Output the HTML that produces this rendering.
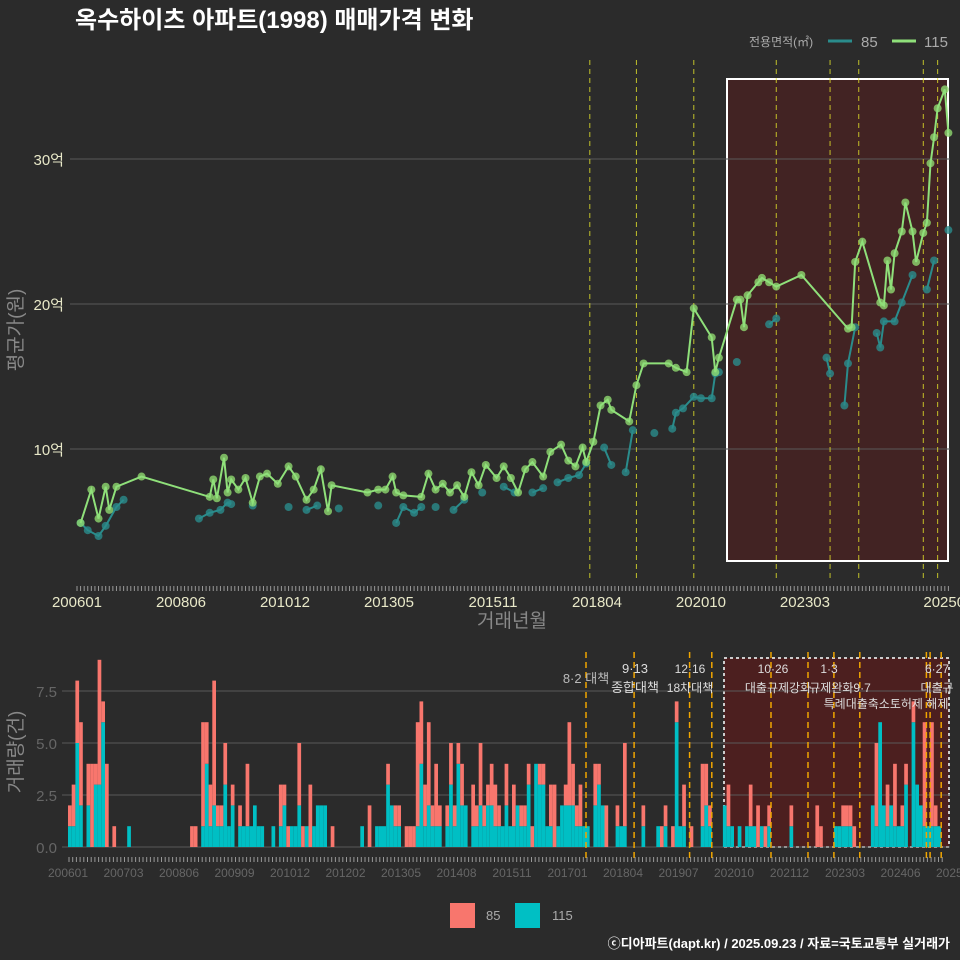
<!DOCTYPE html>
<html><head><meta charset="utf-8"><style>
html,body{margin:0;padding:0;background:#2b2b2b;}
svg{display:block;font-family:"Liberation Sans","Noto Sans CJK KR",sans-serif;}
</style></head><body>
<svg id="chart" width="960" height="960" viewBox="0 0 960 960" xmlns="http://www.w3.org/2000/svg">
<rect x="0" y="0" width="960" height="960" fill="#2b2b2b"/>
<text x="75" y="28" fill="#ffffff" font-size="24" font-weight="bold">옥수하이츠 아파트(1998) 매매가격 변화</text>
<g>
<text x="749" y="46" fill="#aaaaaa" font-size="12">전용면적(㎡)</text>
<line x1="828" y1="41" x2="852" y2="41" stroke="#2a8c8c" stroke-width="3"/>
<text x="861" y="47" fill="#aaaaaa" font-size="15">85</text>
<line x1="892" y1="41" x2="916" y2="41" stroke="#8fe07a" stroke-width="3"/>
<text x="924" y="47" fill="#aaaaaa" font-size="15">115</text>
</g>
<rect x="727" y="79" width="221" height="482" fill="rgba(110,20,20,0.35)" stroke="#ffffff" stroke-width="2"/>
<rect x="724" y="658" width="225" height="189" fill="rgba(110,20,20,0.5)" stroke="#cccccc" stroke-width="2" stroke-dasharray="3,3"/>
<g id="topGrid"></g><g id="topVlines"></g><g id="topMarks"></g><g id="topAxis"></g>
<g id="botGrid"></g><g id="bars"></g><g id="botVlines"></g><g id="botAxis"></g>
<text transform="translate(22,330) rotate(-90)" text-anchor="middle" fill="#888888" font-size="19">평균가(원)</text>
<text x="512" y="627" text-anchor="middle" fill="#888888" font-size="19">거래년월</text>
<text transform="translate(22,752) rotate(-90)" text-anchor="middle" fill="#888888" font-size="19">거래량(건)</text>
<g fill="#dddddd" font-size="12" text-anchor="middle">
<text x="586" y="683" fill="#bbbbbb" font-size="13">8·2 대책</text>
<text x="635" y="673" font-size="13">9·13</text>
<text x="635" y="692" font-size="13">종합대책</text>
<text x="690" y="673">12·16</text>
<text x="690" y="692">18차대책</text>
<text x="773" y="673">10·26</text>
<text x="778" y="692">대출규제강화</text>
<text x="829" y="673">1·3</text>
<text x="840" y="692">규제완화9·7</text>
<text x="886" y="708">특례대출축소토허제 해제</text>
<text x="937" y="673">6·27</text>
<text x="937" y="692">대출규</text>
</g>
<g>
<rect x="450" y="903" width="25" height="25" fill="#f8766d"/>
<text x="486" y="920" fill="#aaaaaa" font-size="13">85</text>
<rect x="515" y="903" width="25" height="25" fill="#00bfc4"/>
<text x="552" y="920" fill="#aaaaaa" font-size="13">115</text>
</g>
<text x="950" y="948" text-anchor="end" fill="#ffffff" font-size="13" font-weight="bold">ⓒ디아파트(dapt.kr) / 2025.09.23 / 자료=국토교통부 실거래가</text>
</svg>
<script>
const months115=[1,4,6,8,9,11,18,37,38,39,41,42,43,45,47,49,51,53,56,59,61,64,66,68,70,71,81,84,86,88,89,91,96,98,100,102,104,106,108,110,112,114,117,119,121,123,125,127,130,132,135,137,139,141,142,144,146,148,149,154,156,158,165,167,170,172,177,178,179,184,185,186,187,190,191,193,195,202,215,216,217,219,224,225,226,227,228,230,231,233,234,236,237,238,239,240,242,243];
const price115=[4.9,7.2,5.2,7.4,5.8,7.4,8.1,6.7,7.9,6.6,9.4,7.0,7.9,7.2,8.0,6.3,8.1,8.3,7.6,8.8,8.1,6.5,7.2,8.6,5.7,7.5,7.0,7.2,7.2,8.1,7.0,6.8,6.7,8.3,7.2,7.6,7.0,7.5,6.7,8.4,7.5,8.9,8.0,8.8,8.0,7.0,8.6,9.1,8.1,9.8,10.3,9.2,8.8,10.1,9.1,10.5,13.0,13.4,12.7,11.9,14.4,15.9,15.9,15.6,15.3,19.7,17.7,15.3,16.3,20.3,20.3,18.4,20.6,21.5,21.8,21.5,21.2,22.0,18.3,18.4,22.9,24.3,20.1,19.9,23.0,21.0,23.5,25.0,27.0,25.0,22.9,24.9,25.6,29.7,31.5,33.5,34.8,31.8];
const months85=[1,3,6,8,11,13,34,37,40,42,43,49,59,64,67,73,84,89,91,94,96,100,105,108,113,119,122,127,130,134,137,140,142,147,149,153,155,161,166,167,169,172,174,177,178,179,184,193,195,209,210,214,215,217,223,224,225,228,230,233,237,239,243];
const price85=[4.9,4.4,4.0,4.7,6.0,6.5,5.2,5.6,5.8,6.3,6.2,6.1,6.0,5.8,6.1,5.9,6.1,4.9,6.0,5.6,6.0,6.0,5.8,6.5,7.0,7.4,7.0,7.0,7.3,7.7,8.0,8.2,9.0,10.1,8.9,8.4,11.3,11.1,11.4,12.5,12.8,13.6,13.5,13.5,15.2,15.3,16.0,18.6,19.0,16.3,15.2,13.0,15.9,18.4,18.0,17.0,18.8,18.8,20.1,22.0,21.0,23.0,25.1];
const priceTicks=[10,20,30];
const priceTickLabels=["10억","20억","30억"];
const topTickMonths=[0,29,58,87,116,145,174,203,243];
const topTickLabels=["200601","200806","201012","201305","201511","201804","202010","202303","202509"];
const topVlineMonths=[143,156,172,195,210,218,236,240];
const countMonths=[0,1,2,3,5,6,7,8,9,10,12,16,33,34,36,37,38,39,40,41,42,43,44,46,47,48,49,50,51,52,55,57,58,59,60,61,62,63,64,65,66,67,68,69,71,79,81,83,84,85,86,87,88,89,91,92,93,94,95,96,97,98,99,100,102,103,104,105,106,107,109,110,111,112,113,114,115,116,117,118,119,120,121,122,123,124,125,126,127,128,129,130,131,132,133,134,135,136,137,138,139,140,142,143,144,145,148,149,150,152,155,159,160,161,163,164,165,166,168,171,172,173,177,178,179,181,183,184,185,186,187,188,189,195,202,203,207,208,209,210,211,212,217,218,219,220,221,222,223,224,225,226,228,229,230,231,232,233,234,235,236];
const count115=[1,1,5,2,2,0,3,3,6,0,0,1,0,0,1,4,1,2,1,1,3,1,2,1,1,1,1,2,1,1,1,1,2,0,1,1,2,0,1,0,1,2,2,2,0,1,0,1,1,1,3,2,1,1,0,0,0,1,4,1,2,1,1,1,1,3,1,4,2,2,1,1,2,1,2,2,1,1,1,2,1,1,2,1,1,3,0,4,3,3,1,1,0,1,2,2,2,2,1,1,1,1,2,3,2,0,1,1,1,0,1,1,0,1,0,6,1,1,0,1,2,1,2,1,1,1,1,1,1,0,1,0,1,1,0,0,1,1,1,1,1,0,2,1,6,2,1,2,1,1,1,3,6,3,2,1,1,1,1,1];
const count85=[1,2,3,4,2,4,1,6,1,4,1,0,1,1,5,2,2,6,1,1,2,0,1,1,0,3,0,0,0,0,0,2,1,1,0,0,3,1,0,3,0,0,0,0,1,0,2,0,0,0,1,0,1,1,1,1,1,5,3,2,4,1,3,1,1,2,1,1,2,0,2,1,3,1,1,2,2,1,0,2,0,2,0,1,1,1,1,0,1,1,0,2,3,0,0,1,4,2,1,2,0,0,2,1,0,2,1,0,4,0,1,0,1,1,1,1,0,2,1,3,2,1,0,2,0,0,0,2,0,2,0,1,1,1,2,1,0,0,1,1,1,1,0,4,0,0,2,0,3,0,1,1,1,0,0,5,0,5,1,0,0,1];
const botTickLabels=["200601","200703","200806","200909","201012","201202","201305","201408","201511","201701","201804","201907","202010","202112","202303","202406","202509"];
const botTickStep=15;
const volTicks=[0,2.5,5,7.5];
const volTickLabels=["0.0","2.5","5.0","7.5"];
const botVlineMonths=[140,153,168,174,190,200,207,214,232,233,236];
const totalMonths=237;

const NS="http://www.w3.org/2000/svg";
function xT(m){return 77+m*3.586;}
function yT(v){return 449-(v-10)*14.5;}
function xB(m){return 68+m*3.7;}
function yB(c){return 847-c*20.8;}
function mk(tag,attrs,parent){const e=document.createElementNS(NS,tag);for(const k in attrs)e.setAttribute(k,attrs[k]);document.getElementById(parent).appendChild(e);return e;}

// top grid
priceTicks.forEach((v,i)=>{
  const l=mk('line',{x1:70,x2:950,y1:yT(v),y2:yT(v),stroke:'#5a5a5a','stroke-width':1},'topGrid');
  
  
  const t=mk('text',{x:64,y:yT(v)+6,'text-anchor':'end',fill:'#e8e8c8','font-size':15},'topGrid');
  t.textContent=priceTickLabels[i];
  
  
});
topVlineMonths.forEach(m=>{
  const l=mk('line',{x1:xT(m),x2:xT(m),y1:60,y2:580,stroke:'#e6e62a','stroke-width':1,'stroke-dasharray':'5,4',opacity:0.8},'topVlines');
  
  
});
// lines
function pathFrom(ms,vs,maxGap){let d='';for(let i=0;i<ms.length;i++){const cmd=(i===0||ms[i]-ms[i-1]>maxGap)?'M':'L';d+=cmd+xT(ms[i]).toFixed(1)+','+yT(vs[i]).toFixed(1)+' ';}return d;}
// points 85
months85.forEach((m,i)=>{
  const c=mk('circle',{cx:xT(m),cy:yT(price85[i]),r:4,fill:'#2a8c8c','fill-opacity':0.8},'topMarks');
  
  
});
const p85=mk('path',{d:pathFrom(months85,price85,3),fill:'none',stroke:'#2a8c8c','stroke-width':2},'topMarks');


months115.forEach((m,i)=>{
  const c=mk('circle',{cx:xT(m),cy:yT(price115[i]),r:4,fill:'#8fd86f','fill-opacity':0.8},'topMarks');
  
  
});
const p115=mk('path',{d:pathFrom(months115,price115,1000),fill:'none',stroke:'#8fe07a','stroke-width':2},'topMarks');


// top ticks
for(let m=0;m<=243;m++){
  const l=mk('line',{x1:xT(m),x2:xT(m),y1:586,y2:591,stroke:'#999','stroke-width':1},'topAxis');
  
  
}
topTickMonths.forEach((m,i)=>{
  const t=mk('text',{x:xT(m),y:607,'text-anchor':'middle',fill:'#e8e8c8','font-size':15},'topAxis');
  t.textContent=topTickLabels[i];
  
  
});
// bottom grid
volTicks.forEach((v,i)=>{
  const l=mk('line',{x1:62,x2:950,y1:yB(v),y2:yB(v),stroke:'#5a5a5a','stroke-width':1},'botGrid');
  
  
  const t=mk('text',{x:57,y:yB(v)+6,'text-anchor':'end',fill:'#666','font-size':15},'botGrid');
  t.textContent=volTickLabels[i];
  
  
});
// bars
countMonths.forEach((m,i)=>{
  const c1=count115[i],c2=count85[i];
  if(c1>0){const r=mk('rect',{x:xB(m),y:yB(c1),width:3.7,height:yB(0)-yB(c1),fill:'#00bfc4'},'bars');
    
    }
  if(c2>0){const r=mk('rect',{x:xB(m),y:yB(c1+c2),width:3.7,height:yB(c1)-yB(c1+c2),fill:'#f8766d'},'bars');
    
    }
});
botVlineMonths.forEach(m=>{
  const l=mk('line',{x1:xB(m),x2:xB(m),y1:652,y2:858,stroke:'#f0a500','stroke-width':1.5,'stroke-dasharray':'6,4'},'botVlines');
  
  
});
for(let m=0;m<totalMonths;m++){
  const l=mk('line',{x1:xB(m)+1,x2:xB(m)+1,y1:857,y2:862,stroke:'#999','stroke-width':1},'botAxis');
  
  
}
botTickLabels.forEach((lab,i)=>{
  const t=mk('text',{x:xB(i*botTickStep),y:877,'text-anchor':'middle',fill:'#666','font-size':12},'botAxis');
  t.textContent=lab;
  
  
});
</script>
</body></html>
